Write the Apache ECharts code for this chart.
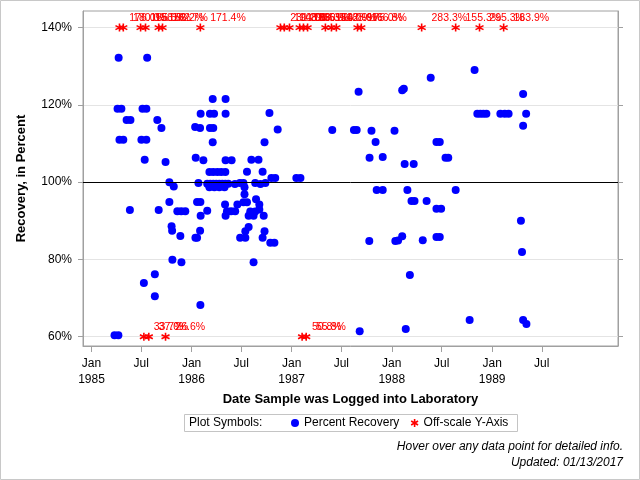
<!DOCTYPE html>
<html>
<head>
<meta charset="utf-8">
<script src="https://cdn.jsdelivr.net/npm/echarts@6/dist/echarts.min.js"></script>
<style>
html,body{margin:0;padding:0;background:#fff;}
#chart{width:640px;height:480px;}
</style>
</head>
<body>
<div id="chart"></div>
<script>
// recovery data
var recDates = [
  '1985-03-26','1985-04-09','1985-04-06','1985-04-10','1985-04-13','1985-04-20','1985-04-27','1985-05-09',
  '1985-05-21','1985-05-23','1985-07-02','1985-07-06','1985-07-11','1985-07-14','1985-07-20','1985-07-20',
  '1985-07-23','1985-08-20','1985-08-20','1985-08-29','1985-09-03','1985-09-13','1985-09-28','1985-10-12',
  '1985-10-12','1985-10-20','1985-10-22','1985-10-23','1985-10-28','1985-11-10','1985-11-21','1985-11-24',
  '1985-11-25','1985-12-09',
  '1986-01-14','1986-01-15','1986-01-16','1986-01-21','1986-01-21','1986-01-26','1986-02-01','1986-02-01',
  '1986-02-02','1986-02-02','1986-02-03','1986-02-03','1986-02-13','1986-02-27','1986-02-27','1986-03-07',
  '1986-03-07','1986-03-09','1986-03-09','1986-03-10','1986-03-19','1986-03-19','1986-03-21','1986-03-21',
  '1986-03-21','1986-03-24','1986-03-25','1986-04-01','1986-04-05','1986-04-12','1986-04-12','1986-04-19',
  '1986-04-23','1986-05-01','1986-05-03','1986-05-04','1986-05-04','1986-05-05','1986-05-05','1986-05-05',
  '1986-05-05','1986-05-10','1986-05-15','1986-05-25','1986-05-27','1986-06-08','1986-06-09','1986-06-17',
  '1986-06-26','1986-06-27','1986-07-09','1986-07-09','1986-07-13','1986-07-13','1986-07-16','1986-07-16',
  '1986-07-22','1986-07-22','1986-07-28','1986-07-28','1986-08-03','1986-08-07','1986-08-15','1986-08-15',
  '1986-08-21','1986-08-21','1986-08-24','1986-09-02','1986-09-05','1986-09-05','1986-09-09','1986-09-17',
  '1986-09-17','1986-09-21','1986-09-24','1986-09-24','1986-09-27','1986-10-12','1986-10-15','1986-10-19',
  '1986-10-30','1986-11-02','1986-11-11','1987-01-18','1987-02-02',
  '1987-05-29','1987-08-16','1987-08-26','1987-09-02','1987-09-06','1987-10-11','1987-10-12','1987-10-19',
  '1987-11-03','1987-11-07','1987-11-29','1987-11-29','1988-01-11','1988-01-14','1988-01-24','1988-02-08',
  '1988-02-08','1988-02-14','1988-02-17','1988-02-21','1988-02-27','1988-03-07','1988-03-13','1988-03-21',
  '1988-03-24','1988-04-23','1988-05-07','1988-05-22','1988-06-12','1988-06-12','1988-06-12','1988-06-24',
  '1988-06-24','1988-06-29','1988-07-15','1988-07-25','1988-08-21','1988-10-11','1988-10-29','1988-11-08',
  '1988-11-19','1988-11-30','1988-12-11','1989-01-31','1989-02-16','1989-03-02','1989-04-16','1989-04-20',
  '1989-04-24','1989-04-24','1989-04-24','1989-05-05','1989-05-06'
];
var recPct = [
  60.4,60.4,119.0,132.2,111.0,119.0,111.0,116.1,
  92.8,116.1,111.0,119.0,73.9,105.8,119.0,111.0,
  132.2,76.2,70.5,116.1,92.8,114.0,105.2,100.0,
  94.9,88.6,87.4,79.9,98.9,92.5,86.1,92.5,
  79.3,92.5,
  114.3,85.6,106.3,85.6,94.9,99.8,114.0,87.4,
  94.9,68.2,117.7,91.3,105.7,99.6,92.6,102.6,
  98.7,117.7,114.0,99.6,121.5,110.3,114.0,102.6,
  99.6,117.7,98.7,99.6,102.6,99.6,98.7,102.6,
  99.6,98.7,94.2,102.6,99.6,121.5,117.7,105.7,
  91.3,92.5,99.6,92.5,105.7,99.5,92.5,94.2,
  99.8,85.6,99.8,94.8,98.7,96.9,87.3,85.6,
  102.7,94.8,91.3,88.4,92.4,105.8,91.3,79.3,
  99.8,92.4,95.6,105.8,94.2,92.9,99.5,102.7,
  85.6,91.3,110.3,87.3,99.8,117.9,84.3,101.1,
  84.3,101.1,113.6,101.1,101.1,
  113.5,113.5,113.5,123.4,61.4,84.8,106.3,113.3,
  110.4,98.0,98.0,106.5,113.3,84.8,84.9,86.0,
  123.8,124.2,104.7,62.0,98.0,76.0,95.1,104.7,
  95.1,85.0,95.1,127.0,110.4,93.1,85.8,110.4,
  85.8,93.1,106.3,106.3,98.0,64.3,129.0,117.7,
  117.7,117.7,117.7,117.7,117.7,117.7,90.0,81.9,
  122.8,114.6,64.3,117.7,63.3
];

// values above the top of the axis, drawn at 140%
var highDates = [
  '1985-04-13','1985-04-27','1985-06-29','1985-07-17','1985-09-03','1985-09-17','1986-02-02',
  '1986-11-21','1986-12-05','1986-12-24','1987-01-30','1987-02-13','1987-02-28','1987-05-04',
  '1987-05-26','1987-06-13','1987-08-29','1987-09-12','1988-04-19','1988-08-21','1988-11-16','1989-02-12'
];
var highPct = [
  176.0,180.0,165.5,158.0,152.2,162.7,171.4,
  231.3,190.0,148.6,200.0,183.3,165.9,150.0,
  142.9,188.9,175.0,166.8,283.3,155.3,295.3,183.9
];
// values below the bottom of the axis, drawn at 60%
var lowDates = ['1985-07-11','1985-07-29','1985-09-28','1987-02-08','1987-02-23'];
var lowPct = [33.7, 37.0, 26.6, 50.8, 55.8];

var tickDates = ['1985-01-01','1985-07-01','1986-01-01','1986-07-01','1987-01-01',
                 '1987-07-01','1988-01-01','1988-07-01','1989-01-01','1989-07-01'];
var yTicks = [60, 80, 100, 120, 140];
var monthNames = ['Jan','Feb','Mar','Apr','May','Jun','Jul','Aug','Sep','Oct','Nov','Dec'];

function toTime(s) {
    var p = s.split('-');
    return new Date(+p[0], +p[1] - 1, +p[2]).getTime();
}

var FONT = '"Liberation Sans", Arial, sans-serif';
var asterisk = 'path://M5 0L5 10M0.7 2.5L9.3 7.5M0.7 7.5L9.3 2.5';
var gray = '#a0a0a0';

var recData = recDates.map(function (d, i) { return [toTime(d), recPct[i]]; });
var offData = highDates.map(function (d, i) { return [toTime(d), 140, highPct[i]]; })
    .concat(lowDates.map(function (d, i) { return [toTime(d), 60, lowPct[i]]; }));
var tickTimes = tickDates.map(toTime);

var chart = echarts.init(document.getElementById('chart'));
chart.setOption({
    animation: false,
    backgroundColor: '#fff',
    textStyle: {fontFamily: FONT},
    grid: {left: 83, right: 22, top: 11, bottom: 134, show: true, borderColor: gray, borderWidth: 1},
    xAxis: {
        // dates as timestamps on a plain value axis, so ticks can sit on Jan / Jul
        type: 'value',
        min: toTime('1984-12-01'),
        max: toTime('1990-04-05'),
        name: 'Date Sample was Logged into Laboratory',
        nameLocation: 'middle',
        nameGap: 46,
        nameTextStyle: {fontWeight: 'bold', fontSize: 13, color: '#000', fontFamily: FONT},
        axisLine: {lineStyle: {color: gray}},
        axisTick: {customValues: tickTimes, length: 6, lineStyle: {color: gray}},
        axisLabel: {
            customValues: tickTimes,
            color: '#000', fontSize: 12, lineHeight: 16, margin: 10, fontFamily: FONT,
            formatter: function (v) {
                var d = new Date(v);
                var m = monthNames[d.getMonth()];
                return d.getMonth() === 0 ? m + '\n' + d.getFullYear() : m;
            }
        },
        splitLine: {show: false}
    },
    yAxis: [{
        type: 'value',
        min: 57.6,
        max: 144.3,
        name: 'Recovery, in Percent',
        nameLocation: 'middle',
        nameGap: 55,
        nameRotate: 90,
        nameTextStyle: {fontWeight: 'bold', fontSize: 13, color: '#000', fontFamily: FONT},
        axisLine: {show: true, lineStyle: {color: gray}},
        axisTick: {show: true, customValues: yTicks, length: 5, lineStyle: {color: gray}},
        axisLabel: {customValues: yTicks, formatter: '{value}%', color: '#000', fontSize: 12, margin: 11},
        splitLine: {show: true, lineStyle: {color: '#e4e4e4'}}
    }, {
        type: 'value',
        position: 'right',
        min: 57.6,
        max: 144.3,
        axisLine: {show: true, lineStyle: {color: gray}},
        axisTick: {show: true, customValues: yTicks, length: 5, lineStyle: {color: gray}},
        axisLabel: {show: false},
        splitLine: {show: false}
    }],
    legend: {
        left: 291, top: 417, padding: 0,
        itemWidth: 8, itemHeight: 8, itemGap: 11,
        selectedMode: false,
        textStyle: {fontSize: 12, color: '#000', fontFamily: FONT},
        data: [
            {name: 'Percent Recovery', icon: 'circle', itemStyle: {color: '#0000ff'}},
            {name: 'Off-scale Y-Axis', icon: asterisk,
             itemStyle: {color: 'transparent', borderColor: '#ff0000', borderWidth: 1.6}}
        ]
    },
    series: [{
        name: 'ref',
        type: 'line',
        data: [],
        z: 1,
        silent: true,
        markLine: {
            symbol: 'none', silent: true, animation: false,
            label: {show: false},
            lineStyle: {color: '#000', width: 1, type: 'solid'},
            data: [{yAxis: 100}]
        }
    }, {
        name: 'Percent Recovery',
        type: 'scatter',
        symbol: 'circle',
        symbolSize: 8,
        z: 3,
        itemStyle: {color: '#0000ff', opacity: 1},
        data: recData
    }, {
        name: 'Off-scale Y-Axis',
        type: 'scatter',
        symbol: asterisk,
        symbolSize: 8,
        z: 4,
        encode: {x: 0, y: 1},
        itemStyle: {color: 'transparent', borderColor: '#ff0000', borderWidth: 1.6, opacity: 1},
        label: {
            show: true, position: 'right', distance: 5,
            color: '#ff0000', fontSize: 10.5, fontFamily: FONT,
            formatter: function (p) { return p.value[2].toFixed(1) + '%'; }
        },
        // lift the value labels above the marker row
        labelLayout: {hideOverlap: false, dy: -10},
        data: offData
    }],
    graphic: [
        {type: 'rect', silent: true, shape: {x: 0.5, y: 0.5, width: 639, height: 479},
         style: {fill: 'none', stroke: '#c8c8c8', lineWidth: 1}},
        {type: 'rect', silent: true, shape: {x: 184.5, y: 414.5, width: 333, height: 17},
         style: {fill: 'none', stroke: '#c4c4c4', lineWidth: 1}},
        {type: 'text', silent: true, x: 189, y: 423,
         style: {text: 'Plot Symbols:', fill: '#000', fontSize: 12, fontFamily: FONT, verticalAlign: 'middle'}},
        {type: 'text', silent: true, x: 623, y: 447,
         style: {text: 'Hover over any data point for detailed info.', fill: '#000', fontSize: 12,
                 fontStyle: 'italic', fontFamily: FONT, align: 'right', verticalAlign: 'middle'}},
        {type: 'text', silent: true, x: 623, y: 463,
         style: {text: 'Updated: 01/13/2017', fill: '#000', fontSize: 12,
                 fontStyle: 'italic', fontFamily: FONT, align: 'right', verticalAlign: 'middle'}}
    ]
});
</script>
</body>
</html>
